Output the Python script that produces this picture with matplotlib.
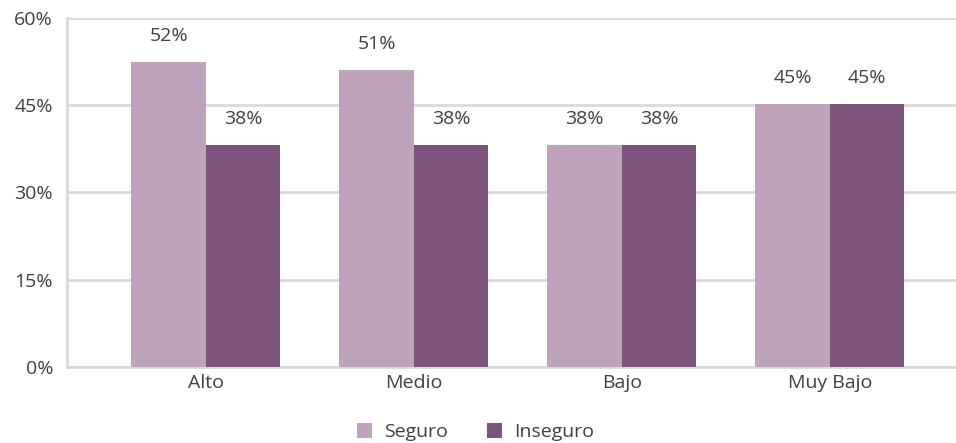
import matplotlib.pyplot as plt
import numpy as np

plt.rcParams['font.family'] = ['Open Sans', 'DejaVu Sans']

categories = ["Alto", "Medio", "Bajo", "Muy Bajo"]
seguro = [52.4, 51.1, 38.2, 45.2]
inseguro = [38.2, 38.2, 38.2, 45.2]
yticks = [0, 15, 30, 45, 60]

c_seg = '#bfa3bc'
c_ins = '#7d527c'
txt = '#404040'
grid = '#d9d9d9'

fig = plt.figure(figsize=(9.56, 4.43), dpi=100)
ax = fig.add_axes([0.070, 0.1716, 0.930, 0.7878])

x = np.arange(len(categories))
w = 0.358
b1 = ax.bar(x - w / 2, seguro, w, color=c_seg, label="Seguro", zorder=3)
b2 = ax.bar(x + w / 2, inseguro, w, color=c_ins, label="Inseguro", zorder=3)

for bars, vals in ((b1, seguro), (b2, inseguro)):
    for r, v in zip(bars, vals):
        ax.text(r.get_x() + r.get_width() / 2, v + 2.9, f"{round(v)}%",
                ha='center', va='bottom', fontsize=14, color=txt)

ax.set_ylim(0, 60)
ax.set_xlim(-0.668, 3.606)
ax.set_yticks(yticks)
ax.set_yticklabels([f"{t}%" for t in yticks])
ax.set_xticks(x)
ax.set_xticklabels(categories)
ax.tick_params(axis='both', length=0, labelsize=14, colors=txt)
ax.tick_params(axis='y', pad=10)
ax.tick_params(axis='x', pad=5)
ax.yaxis.grid(True, color=grid, linewidth=2, zorder=0)
for s in ['top', 'right']:
    ax.spines[s].set_visible(False)
for s in ['left', 'bottom']:
    ax.spines[s].set_color(grid)
    ax.spines[s].set_linewidth(2)

fig.legend(handles=[b1, b2], loc='lower center', bbox_to_anchor=(0.497, -0.035),
           ncol=2, frameon=False, fontsize=14, labelcolor=txt,
           handlelength=0.8, handleheight=0.8, handletextpad=0.6, columnspacing=2.0)

fig.savefig('out.png', dpi=100)
